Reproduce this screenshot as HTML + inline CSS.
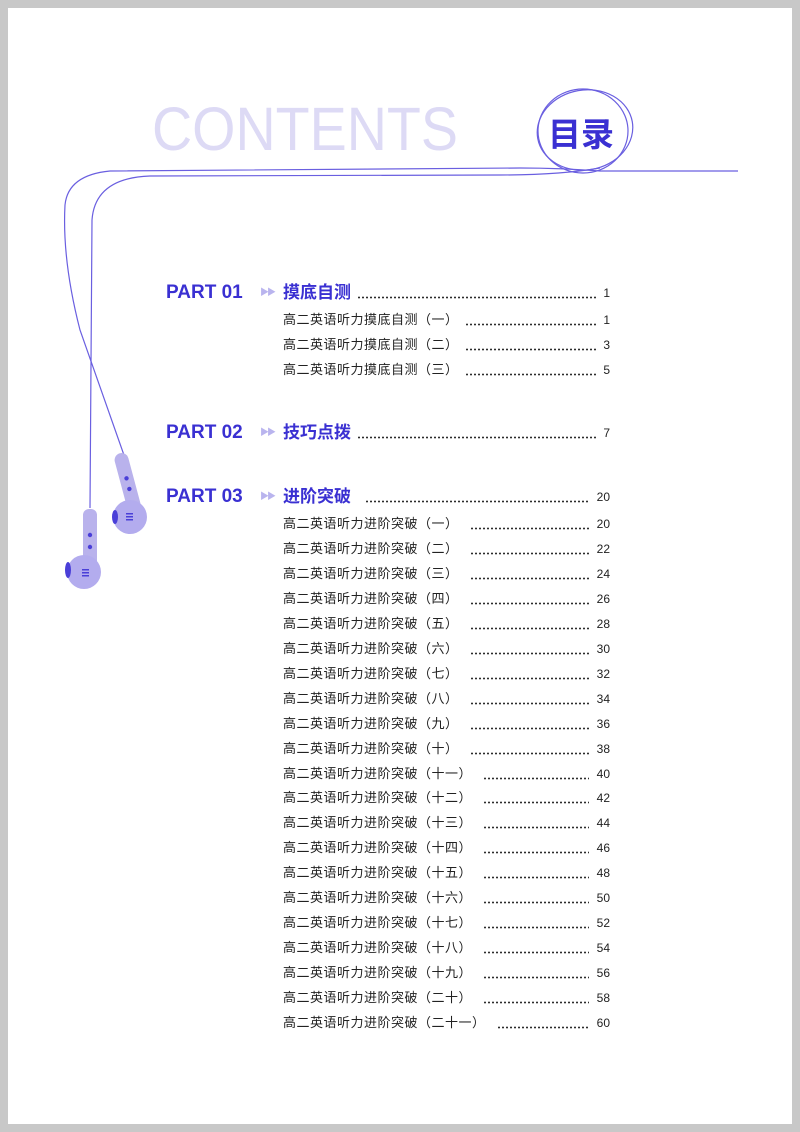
<!DOCTYPE html>
<html><head><meta charset="utf-8"><style>
body{margin:0;background:#fff}
#pg{position:absolute;left:0;top:0;width:800px;height:1132px;background:#fff;overflow:hidden}
#fr{position:absolute;left:0;top:0;width:784px;height:1116px;border:8px solid #c8c8c8}
.a{position:absolute;white-space:nowrap;font-family:"Liberation Sans","Noto Sans CJK SC",sans-serif}
.part{font-size:19px;font-weight:bold;color:#3a30d2}
.ttl{font-size:17px;color:#3a30d2;font-weight:bold}
.it{font-size:13px;color:#222;letter-spacing:0.5px}
.n{font-size:12px;color:#222;text-align:right;width:30px}
.d{position:absolute;height:3px;background-image:radial-gradient(circle,#222 0.75px,transparent 1.15px);background-size:4px 3px}
.arr{font-size:9px;color:#b9b4ee;letter-spacing:-2px}
</style></head><body><div id="pg">
<svg style="position:absolute;left:0;top:0" width="800" height="1132">
<text x="152" y="150" font-family="Liberation Sans,sans-serif" font-size="61" fill="#dddaf5" textLength="306" lengthAdjust="spacingAndGlyphs">CONTENTS</text>
<g fill="none" stroke="#6a5fe0" stroke-width="1.2">
<ellipse cx="585" cy="130" rx="48" ry="40" transform="rotate(-10 585 130)"/>
<ellipse cx="583" cy="131" rx="45" ry="42"/>
<path d="M738 171 L600 171 Q560 168 520 168 L110 171 Q68 175 65 205 Q62 260 80 330 L125 458"/>
<path d="M600 168 Q560 175 500 175 L150 176 Q95 178 92 220 L90 508"/>
</g>
<g transform="rotate(-15 128 480)">
<rect x="120" y="452" width="14" height="60" rx="7" fill="#b9b2ec"/>
<circle cx="127" cy="478" r="2.2" fill="#4a3fd8"/><circle cx="127" cy="489" r="2.2" fill="#4a3fd8"/>
</g>
<circle cx="130" cy="517" r="17" fill="#b3acee"/>
<ellipse cx="115" cy="517" rx="3" ry="7" fill="#4a3fd8"/>
<rect x="126" y="513" width="7" height="1.5" fill="#4a3fd8"/><rect x="126" y="516" width="7" height="1.5" fill="#4a3fd8"/><rect x="126" y="519" width="7" height="1.5" fill="#4a3fd8"/>
<rect x="83" y="509" width="14" height="62" rx="6" fill="#b9b2ec"/>
<circle cx="90" cy="535" r="2.2" fill="#4a3fd8"/><circle cx="90" cy="547" r="2.2" fill="#4a3fd8"/>
<circle cx="84" cy="572" r="17" fill="#b3acee"/>
<ellipse cx="68" cy="570" rx="3" ry="8" fill="#4a3fd8"/>
<rect x="82" y="569" width="7" height="1.5" fill="#4a3fd8"/><rect x="82" y="572" width="7" height="1.5" fill="#4a3fd8"/><rect x="82" y="575" width="7" height="1.5" fill="#4a3fd8"/>
</svg>
<div class="a" style="left:548px;top:112px;font-size:33px;font-weight:bold;color:#3a30d2;font-family:'Noto Sans CJK SC',sans-serif;line-height:40px">目录</div>
<div id="c"></div>
<div id="fr"></div>
</div>
<script>
var c=document.getElementById('c'),h='';
function p(y,t,x1,x2,n){h+='<div class="a" style="left:283px;top:'+(y-10)+'px;line-height:20px">'+t+'</div>';
h+='<div class="d" style="left:'+x1+'px;top:'+(y+3)+'px;width:'+(x2-x1)+'px"></div>';
h+='<div class="a n" style="left:580px;top:'+(y-8)+'px;line-height:16px">'+n+'</div>';}
function P(y,t){h+='<div class="a part" style="left:166px;top:'+(y-12)+'px;line-height:24px">'+t+'</div><div class="a arr" style="left:260px;top:'+(y-13)+'px;line-height:24px">▶▶</div>';}
P(293,'PART 01');p(293,'<span class="ttl">摸底自测</span>',357,597,'1');
var s=['一','二','三'],ps=[1,3,5];
for(var i=0;i<3;i++)p(320+25*i,'<span class="it">高二英语听力摸底自测（'+s[i]+'）</span>',465,597,ps[i]);
P(433,'PART 02');p(433,'<span class="ttl">技巧点拨</span>',357,597,'7');
P(497,'PART 03');p(497,'<span class="ttl">进阶突破</span>',365,589,'20');
var z=['一','二','三','四','五','六','七','八','九','十','十一','十二','十三','十四','十五','十六','十七','十八','十九','二十','二十一'];
for(var i=0;i<21;i++){var x=z[i].length==1?470:(z[i].length==2?483:497);
p(524+24.95*i,'<span class="it">高二英语听力进阶突破（'+z[i]+'）</span>',x,589,20+2*i);}
c.innerHTML=h;
</script>
</body></html>
